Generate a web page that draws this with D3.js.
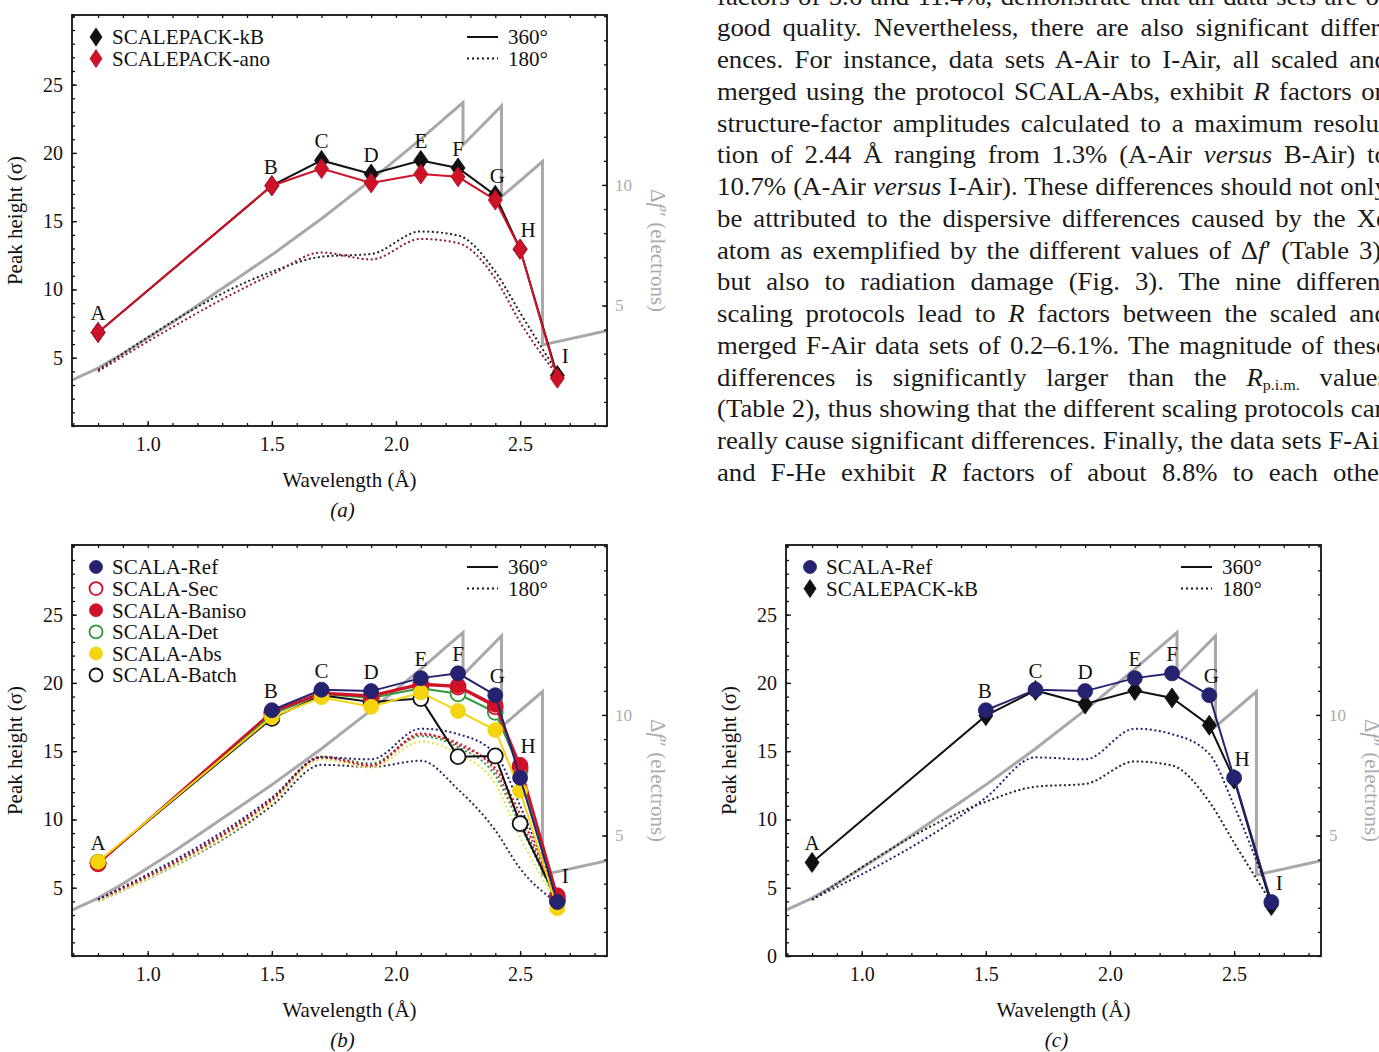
<!DOCTYPE html>
<html lang="en">
<head>
<meta charset="UTF-8">
<title>Xe peak heights versus wavelength</title>
<script src="https://d3js.org/d3.v7.min.js"></script>
<style>
  * { margin: 0; padding: 0; box-sizing: border-box; }
  body {
    width: 1379px; height: 1052px; overflow: hidden; position: relative;
    background: #fff; font-family: "Liberation Serif", "Times New Roman", serif; color: #1a1a1a;
  }
  #chart { position: absolute; left: 0; top: 0; }
  .para {
    position: absolute; left: 717px; top: -19.3px; width: 627px; font-size: 25px;
    transform: scaleX(1.07); transform-origin: 0 0;
  }
  .para div { height: 31.75px; line-height: 31.75px; white-space: nowrap; text-align: justify; text-align-last: justify; }
  .para sub { font-size: 15px; vertical-align: -4px; line-height: 0; }
  .tick text { font-family: "Liberation Serif", serif; }
</style>
</head>
<body>
<svg id="chart"></svg>
<div class="para" id="para"></div>

<script>
// ---- data ----
const wavelength = [0.8, 1.5, 1.7, 1.9, 2.1, 2.25, 2.4, 2.5, 2.65];
const pointLabels = ['A', 'B', 'C', 'D', 'E', 'F', 'G', 'H', 'I'];

// theoretical f'' of Xe (grey curve, right axis), L1/L2/L3 edges
const fppLambda = [0.695, 0.8, 0.9, 1.0, 1.1, 1.2, 1.3, 1.4, 1.5, 1.6, 1.7, 1.8, 1.9, 2.0, 2.1, 2.2, 2.27,
                   2.27, 2.425, 2.425, 2.59, 2.59, 2.85];
const fppValue  = [1.9, 2.4, 3.0, 3.65, 4.3, 5.0, 5.7, 6.4, 7.1, 7.85, 8.6, 9.4, 10.2, 11.05, 11.9, 12.8, 13.42,
                   11.66, 13.28, 9.51, 10.97, 3.36, 3.95];

// 360 deg (solid) and 180 deg (dotted) peak heights
const kB360     = [6.85, 17.6, 19.45, 18.45, 19.45, 18.9, 16.9, 12.95, 3.7];
const kB180     = [4.1, 11.3, 12.4, 12.6, 14.25, 13.95, 11.3, 8.3, 3.9];
const ano360    = [6.85, 17.6, 18.85, 17.8, 18.45, 18.25, 16.55, 12.95, 3.5];
const ano180    = [4.0, 11.1, 12.7, 12.2, 13.7, 13.4, 10.8, 7.6, 3.7];

const ref360    = [null, 18.0, 19.5, 19.4, 20.35, 20.7, 19.1, 13.05, 3.95];
const ref180    = [4.15, 11.6, 14.55, 14.4, 16.65, 16.25, 14.8, 11.0, 4.1];
const sec360    = [6.75, 17.85, 19.2, 19.0, 19.85, 19.7, 18.25, 13.85, 4.35];
const sec180    = [4.1, 11.4, 14.5, 13.9, 16.2, 15.6, 13.5, 10.0, 4.0];
const baniso360 = [6.75, 17.9, 19.3, 19.1, 19.95, 19.8, 18.4, 14.0, 4.45];
const baniso180 = [4.1, 11.5, 14.6, 14.0, 16.3, 15.45, 13.75, 10.4, 4.0];
const det360    = [6.8, 17.7, 19.2, 18.9, 19.6, 19.2, 17.85, 13.6, 4.2];
const det180    = [4.1, 11.4, 14.6, 14.1, 16.1, 15.3, 13.2, 9.6, 3.9];
const abs360    = [6.9, 17.5, 18.95, 18.25, 19.3, 17.95, 16.55, 12.1, 3.5];
const abs180    = [4.0, 11.2, 14.4, 13.8, 15.7, 14.8, 12.6, 8.7, 3.8];
const batch360  = [6.85, 17.4, 19.1, 18.6, 18.85, 14.6, 14.65, 9.7, 4.05];
const batch180  = [4.0, 11.0, 14.0, 13.85, 14.3, 12.2, 9.2, 6.4, 3.9];

// ticks
const xMajor = [1.0, 1.5, 2.0, 2.5];
const xMinor = d3.range(7, 29).map(d => d / 10);
const yMajorAB = [5, 10, 15, 20, 25];
const yMajorC = [0, 5, 10, 15, 20, 25];
const yMinor = d3.range(0, 31);
const rMajor = [5, 10];
const rMinor = d3.range(0, 18);

const paragraphLines = [
  'factors of 5.6 and 11.4%, demonstrate that all data sets are of',
  'good quality. Nevertheless, there are also significant differ-',
  'ences. For instance, data sets A-Air to I-Air, all scaled and',
  'merged using the protocol SCALA-Abs, exhibit <i>R</i> factors on',
  'structure-factor amplitudes calculated to a maximum resolu-',
  'tion of 2.44 Å ranging from 1.3% (A-Air <i>versus</i> B-Air) to',
  '10.7% (A-Air <i>versus</i> I-Air). These differences should not only',
  'be attributed to the dispersive differences caused by the Xe',
  'atom as exemplified by the different values of Δ<i>f</i>′ (Table 3),',
  'but also to radiation damage (Fig. 3). The nine different',
  'scaling protocols lead to <i>R</i> factors between the scaled and',
  'merged F-Air data sets of 0.2–6.1%. The magnitude of these',
  'differences is significantly larger than the <i>R</i><sub>p.i.m.</sub> values',
  '(Table 2), thus showing that the different scaling protocols can',
  'really cause significant differences. Finally, the data sets F-Air',
  'and F-He exhibit <i>R</i> factors of about 8.8% to each other'
];

// ---- styling ----
const NAVY = '#25226f', RED = '#cf1228', GREEN = '#2f9a3a', YELLOW = '#f4d40e', BLACK = '#111', GREY = '#a8a8a8';

const sKB     = { name: 'SCALEPACK-kB',  color: BLACK,  dot: '#222',    marker: 'diamond', open: false, full: kB360,  half: kB180 };
const sAno    = { name: 'SCALEPACK-ano', color: RED,    dot: '#8c1c34', marker: 'diamond', open: false, full: ano360, half: ano180 };
const sRef    = { name: 'SCALA-Ref',     color: NAVY,   dot: NAVY,      marker: 'circle',  open: false, full: ref360, half: ref180 };
const sSec    = { name: 'SCALA-Sec',     color: RED,    dot: '#c23a4a', marker: 'circle',  open: true,  full: sec360, half: sec180 };
const sBaniso = { name: 'SCALA-Baniso',  color: RED,    dot: RED,       marker: 'circle',  open: false, full: baniso360, half: baniso180 };
const sDet    = { name: 'SCALA-Det',     color: GREEN,  dot: GREEN,     marker: 'circle',  open: true,  full: det360, half: det180 };
const sAbs    = { name: 'SCALA-Abs',     color: YELLOW, dot: '#ece04a', marker: 'circle',  open: false, full: abs360, half: abs180 };
const sBatch  = { name: 'SCALA-Batch',   color: BLACK,  dot: '#2a2a50', marker: 'circle',  open: true,  full: batch360, half: batch180 };

const panels = [
  { id: 'a', left: 72,  top: 15,  yTicks: yMajorAB, legend: [sKB, sAno], draw: [sKB, sAno] },
  { id: 'b', left: 72,  top: 545, yTicks: yMajorAB,
    legend: [sRef, sSec, sBaniso, sDet, sAbs, sBatch], draw: [sBatch, sDet, sSec, sBaniso, sAbs, sRef] },
  { id: 'c', left: 786, top: 545, yTicks: yMajorC, legend: [sRef, sKB], draw: [sKB, sRef] }
];

const labelDx = [0, -1, 0, 0, 0, 0, 2, 8, 8];

const W = 535, H = 411;
const svg = d3.select('#chart').attr('width', 1379).attr('height', 1052);

function diamondPath(w, h) {
  return `M0,${-h}L${w},0L0,${h}L${-w},0Z`;
}

function drawMarker(sel, s, big) {
  if (s.marker === 'diamond') {
    sel.append('path').attr('d', big ? diamondPath(7, 10) : diamondPath(6, 9))
      .attr('fill', s.color).attr('stroke', d3.color(s.color).darker(0.6)).attr('stroke-width', 0.8);
  } else {
    sel.append('circle').attr('r', big ? 7.5 : 6.5)
      .attr('fill', s.open ? '#fff' : s.color)
      .attr('stroke', s.color).attr('stroke-width', s.open ? 1.8 : 0.8);
  }
}

function styleAxis(ax, color, size) {
  ax.select('.domain').remove();
  ax.selectAll('.tick line').attr('stroke', BLACK).attr('stroke-width', 1.3);
  ax.selectAll('.tick text').attr('fill', color).attr('font-size', size);
}

function drawPanel(p) {
  const g = svg.append('g').attr('transform', `translate(${p.left},${p.top})`);
  const x = d3.scaleLinear().domain([0.695, 2.85]).range([0, W]);
  const y = d3.scaleLinear().domain([0, 30.1]).range([H, 0]);
  const yR = d3.scaleLinear().domain([0, 17.05]).range([H, 0]);

  g.append('clipPath').attr('id', 'clip-' + p.id)
    .append('rect').attr('width', W).attr('height', H);
  const plot = g.append('g').attr('clip-path', `url(#clip-${p.id})`);

  // grey f'' curve
  plot.append('path')
    .datum(d3.zip(fppLambda, fppValue))
    .attr('d', d3.line().x(d => x(d[0])).y(d => yR(d[1])))
    .attr('fill', 'none').attr('stroke', GREY).attr('stroke-width', 3).attr('stroke-linejoin', 'miter');

  const pts = arr => arr.map((v, i) => ({ l: wavelength[i], v: v }));

  // 180 deg dotted curves
  const smooth = d3.line().defined(d => d.v != null)
    .x(d => x(d.l)).y(d => y(d.v)).curve(d3.curveMonotoneX);
  p.draw.forEach(s => {
    plot.append('path').datum(pts(s.half))
      .attr('d', smooth)
      .attr('fill', 'none').attr('stroke', s.dot).attr('stroke-width', 2)
      .attr('stroke-dasharray', '2,2.6');
  });

  // 360 deg solid lines and markers
  const straight = d3.line().defined(d => d.v != null).x(d => x(d.l)).y(d => y(d.v));
  p.draw.forEach(s => {
    plot.append('path').datum(pts(s.full))
      .attr('d', straight)
      .attr('fill', 'none').attr('stroke', s.color).attr('stroke-width', 2);
    plot.selectAll(null)
      .data(pts(s.full).filter(d => d.v != null))
      .enter().append('g')
      .attr('transform', d => `translate(${x(d.l)},${y(d.v)})`)
      .each(function () { drawMarker(d3.select(this), s, true); });
  });

  // point letters
  pointLabels.forEach((lab, i) => {
    const top = d3.max(p.draw, s => s.full[i]);
    g.append('text')
      .attr('x', x(wavelength[i]) + labelDx[i]).attr('y', y(top) - 12)
      .attr('text-anchor', 'middle').attr('font-size', 21).attr('fill', BLACK)
      .text(lab);
  });

  // axes
  g.append('g').attr('transform', `translate(0,${H})`)
    .call(d3.axisBottom(x).tickValues(xMinor).tickSize(-3).tickFormat(''))
    .call(a => styleAxis(a, BLACK, 20));
  g.append('g').attr('transform', `translate(0,${H})`)
    .call(d3.axisBottom(x).tickValues(xMajor).tickSize(-5).tickPadding(11).tickFormat(d3.format('.1f')))
    .call(a => styleAxis(a, BLACK, 20));
  g.append('g')
    .call(d3.axisTop(x).tickValues(xMinor).tickSize(-3).tickFormat(''))
    .call(a => styleAxis(a, BLACK, 20));
  g.append('g')
    .call(d3.axisLeft(y).tickValues(yMinor).tickSize(-3).tickFormat(''))
    .call(a => styleAxis(a, BLACK, 20));
  g.append('g')
    .call(d3.axisLeft(y).tickValues(p.yTicks).tickSize(-5).tickPadding(9))
    .call(a => styleAxis(a, BLACK, 20));
  g.append('g').attr('transform', `translate(${W},0)`)
    .call(d3.axisRight(yR).tickValues(rMinor).tickSize(-3).tickFormat(''))
    .call(a => styleAxis(a, BLACK, 16));
  g.append('g').attr('transform', `translate(${W},0)`)
    .call(d3.axisRight(yR).tickValues(rMajor).tickSize(-5).tickPadding(8))
    .call(a => styleAxis(a, '#ababab', 17));

  g.append('rect').attr('width', W).attr('height', H)
    .attr('fill', 'none').attr('stroke', BLACK).attr('stroke-width', 1.8);

  // axis titles
  g.append('text')
    .attr('transform', `translate(-50,${H / 2}) rotate(-90)`)
    .attr('text-anchor', 'middle').attr('font-size', 21).attr('fill', BLACK)
    .text('Peak height (σ)');
  g.append('text')
    .attr('x', W / 2 + 10).attr('y', H + 61)
    .attr('text-anchor', 'middle').attr('font-size', 21).attr('fill', BLACK)
    .text('Wavelength (Å)');
  g.append('text')
    .attr('x', W / 2 + 3).attr('y', H + 91)
    .attr('text-anchor', 'middle').attr('font-size', 21).attr('font-style', 'italic').attr('fill', BLACK)
    .text(`(${p.id})`);
  const rt = g.append('text')
    .attr('transform', `translate(${W + 44},${H / 2 + 30}) rotate(90)`)
    .attr('text-anchor', 'middle').attr('font-size', 21).attr('fill', '#ababab');
  rt.append('tspan').text('Δ');
  rt.append('tspan').attr('font-style', 'italic').text('f');
  rt.append('tspan').text('″ (electrons)');

  // legend: markers
  const leg = g.append('g').attr('transform', 'translate(24,22)');
  p.legend.forEach((s, i) => {
    const row = leg.append('g').attr('transform', `translate(0,${i * 21.6})`);
    drawMarker(row, s, false);
    row.append('text').attr('x', 16).attr('dy', '0.35em')
      .attr('font-size', 21).attr('fill', BLACK).text(s.name);
  });

  // legend: line styles
  const ls = g.append('g').attr('transform', `translate(${W - 140},22)`);
  ls.append('line').attr('x1', 0).attr('x2', 31).attr('stroke', BLACK).attr('stroke-width', 2);
  ls.append('text').attr('x', 41).attr('dy', '0.35em').attr('font-size', 21).attr('fill', BLACK).text('360°');
  ls.append('line').attr('x1', 0).attr('x2', 31).attr('y1', 21.6).attr('y2', 21.6)
    .attr('stroke', BLACK).attr('stroke-width', 2).attr('stroke-dasharray', '2,3');
  ls.append('text').attr('x', 41).attr('y', 21.6).attr('dy', '0.35em').attr('font-size', 21).attr('fill', BLACK).text('180°');
}

panels.forEach(drawPanel);

d3.select('#para').selectAll('div')
  .data(paragraphLines).enter().append('div')
  .html(d => d);
</script>
</body>
</html>
